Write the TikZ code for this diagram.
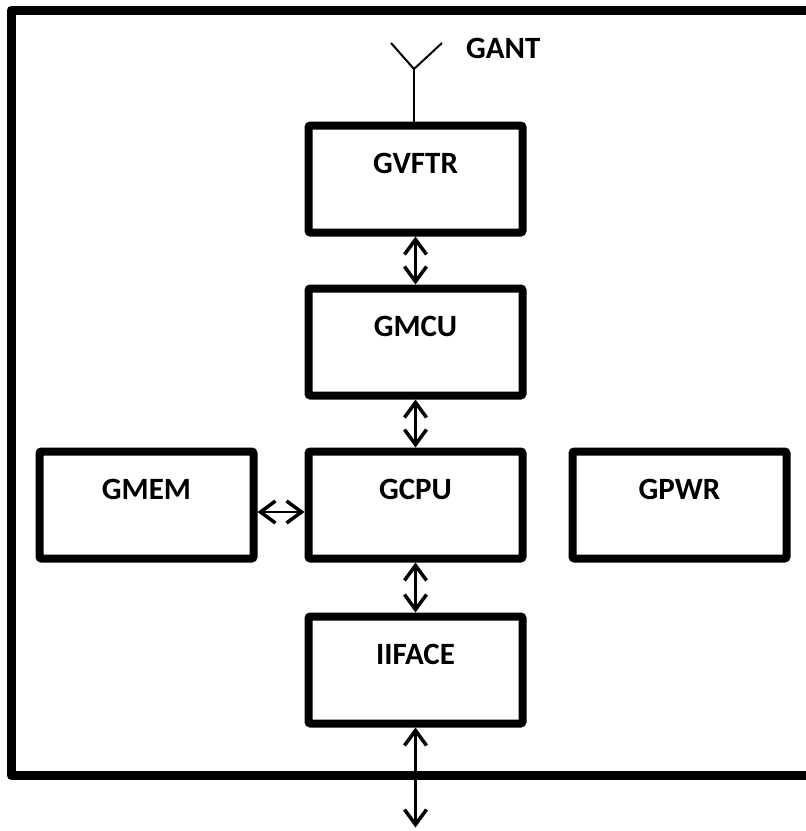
\documentclass[tikz,border=0pt]{standalone}
\usepackage{fontspec}
\usepackage{tikz}
\usetikzlibrary{arrows.meta,positioning}
\newfontfamily\blockfont{Carlito}

\begin{document}
\begin{tikzpicture}[
  x=1pt,y=-1pt,
  node distance=48pt and 47pt,
  block/.style={draw=black,line width=8pt,rounded corners=2pt,fill=white,minimum width=214pt,
    inner xsep=0pt,inner ysep=0pt,text height=48pt,text depth=59pt,align=center,
    font=\blockfont\bfseries\fontsize{31}{37}\selectfont},
  biarrow/.style={{Straight Barb[length=15pt,width=22pt,line width=3.5pt]}-{Straight Barb[length=15pt,width=22pt,line width=3.5pt]},line width=2.5pt},
  frame/.style={line width=9pt,line join=round}
]
\useasboundingbox (0,0) rectangle (806,831);
\draw[frame] (806,10) -| (11,775) -- (806,775);
\node[block] (gvftr) at (415.5,179) {GVFTR};
\node[block,below=of gvftr] (gmcu) {GMCU};
\node[block,below=of gmcu] (gcpu) {GCPU};
\node[block,below=50pt of gcpu] (iiface) {IIFACE};
\node[block,left=of gcpu] (gmem) {GMEM};
\node[block,right=42pt of gcpu] (gpwr) {GPWR};
% antenna
\coordinate (ant) at (414,69);
\draw[line width=2pt] (391,43) -- (ant) -- (442,43);
\draw[line width=1.5pt] (ant) -- (ant |- gvftr.north);
\node[anchor=west,inner sep=0pt,font=\blockfont\bfseries\fontsize{31}{37}\selectfont] (gant) at (466,48.5) {GANT};
\coordinate (ext) at ([yshift=-100pt]iiface.south);
\draw[biarrow] (gvftr) -- (gmcu);
\draw[biarrow] (gmcu) -- (gcpu);
\draw[biarrow] (gcpu) -- (iiface);
\draw[biarrow] ([yshift=-7pt]gmem.east) -- ([yshift=-7pt]gmem.east -| gcpu.west);
\draw[biarrow] (iiface.south) -- (ext);
\end{tikzpicture}
\end{document}
